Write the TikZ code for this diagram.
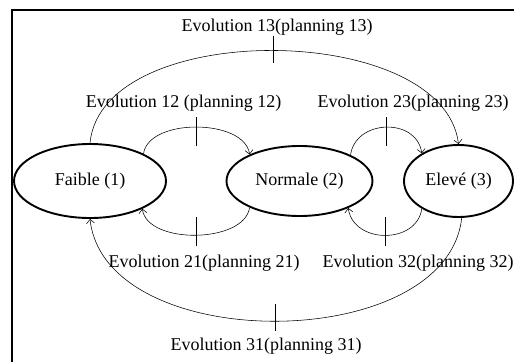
\documentclass[tikz,border=0pt]{standalone}
\usepackage{fontspec}
\setmainfont{Liberation Serif}
\usetikzlibrary{shapes.geometric,arrows.meta}
\begin{document}
\begin{tikzpicture}[x=1pt,y=-1pt,
  state/.style={ellipse,draw,line width=1.9pt,inner sep=0pt},
  trans/.style={line width=0.55pt,-{Straight Barb[length=4pt,width=8pt]}},
  tickmark/.style={line width=0.8pt},
  lbl/.style={inner sep=0pt},
  every node/.style={font=\fontsize{18}{20}\selectfont}]
\useasboundingbox (0,0) rectangle (514,362);
% frame
\draw[line width=1.7pt] (12,362) -- (12,10) -- (514,10);

% states
\node[state,minimum width=152pt,minimum height=74pt] (f) at (90,181) {Faible (1)};
\node[state,minimum width=146pt,minimum height=70pt] (n) at (299.5,181) {Normale (2)};
\node[state,minimum width=109pt,minimum height=72pt] (e) at (458.5,181) {Elevé (3)};

% transitions
\draw[trans] (f.north) .. controls +(12,-125) and +(-15,-123) .. (e.north)
  coordinate[pos=0.5] (m13);
\draw[trans] (f.27) .. controls +(5,-36) and +(-5,-36) .. (n.152)
  coordinate[pos=0.5] (m12);
\draw[trans] (n.27) .. controls +(5,-36) and +(-5,-36) .. (e.143)
  coordinate[pos=0.5] (m23);
\draw[trans] (n.208) .. controls +(-5,36) and +(5,36) .. (f.332)
  coordinate[pos=0.5] (m21);
\draw[trans] (e.217) .. controls +(-5,36) and +(5,36) .. (n.331)
  coordinate[pos=0.5] (m32);
\draw[trans] (e.275) .. controls +(-15,137) and +(15,137) .. (f.south)
  coordinate[pos=0.5] (m31);

% tick marks across each transition
\draw[tickmark] ([yshift=15pt]m13) -- ([yshift=-12pt]m13);
\draw[tickmark] ([yshift=10pt]m12) -- ([yshift=-19pt]m12);
\draw[tickmark] ([yshift=10pt]m23) -- ([yshift=-19pt]m23);
\draw[tickmark] ([yshift=18pt]m21) -- ([yshift=-11pt]m21);
\draw[tickmark] ([yshift=18pt]m32) -- ([yshift=-11pt]m32);
\draw[tickmark] ([yshift=17pt]m31) -- ([yshift=-10pt]m31);

% labels
\node[lbl] (l13) at (277,27) {Evolution 13(planning 13)};
\node[lbl] (l12) at (183.5,103) {Evolution 12 (planning 12)};
\node[lbl] (l23) at (413,103) {Evolution 23(planning 23)};
\node[lbl] (l21) at (204,263) {Evolution 21(planning 21)};
\node[lbl] (l32) at (418,263) {Evolution 32(planning 32)};
\node[lbl] (l31) at (266,346) {Evolution 31(planning 31)};
\end{tikzpicture}
\end{document}
